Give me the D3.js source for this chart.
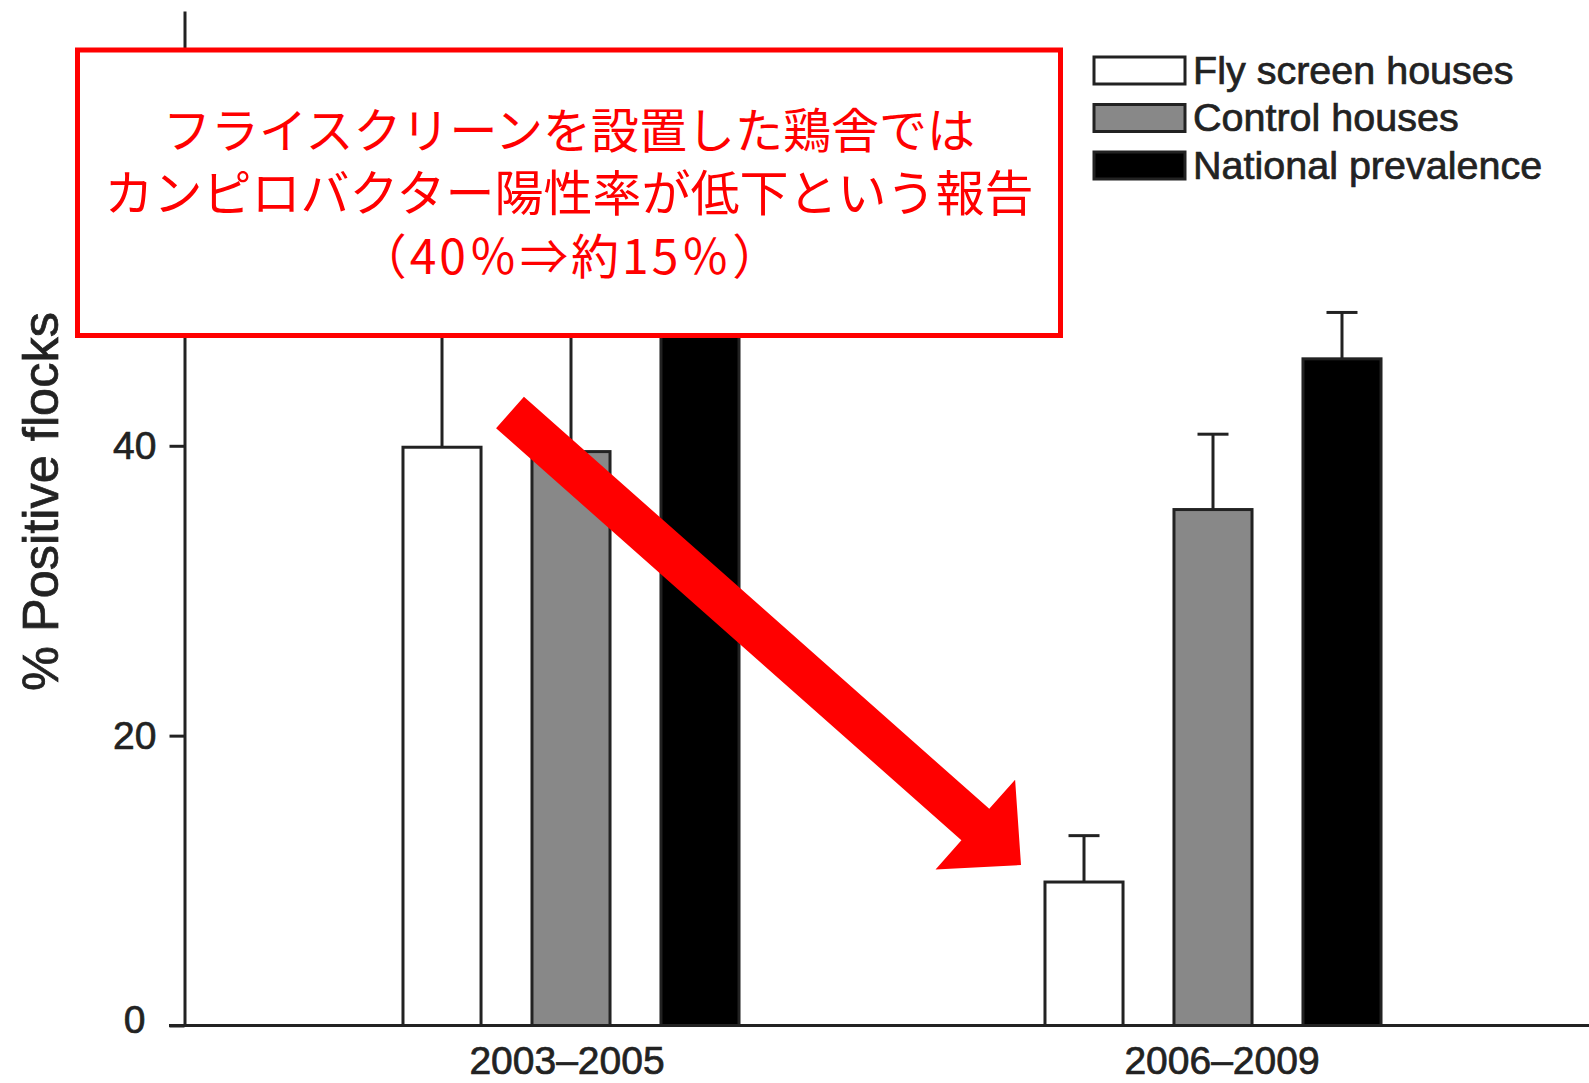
<!DOCTYPE html>
<html>
<head>
<meta charset="utf-8">
<script src="https://cdn.jsdelivr.net/npm/d3@7"></script>
<style>
  html, body { margin: 0; padding: 0; background: #fff; }
  #chart { width: 1589px; height: 1083px; }
</style>
</head>
<body>
<div id="chart"></div>
<script>
const periods = ["2003–2005", "2006–2009"];
const seriesNames = ["Fly screen houses", "Control houses", "National prevalence"];
const flyScreen = [39.9, 9.9];
const control = [39.6, 35.6];
const national = [52, 46];
const flyScreenErr = [14, 3.2];
const controlErr = [13, 5.2];
const nationalErr = [4, 3.2];
const yTicks = [0, 20, 40, 60];
const noteLines = ["フライスクリーンを設置した鶏舎では", "カンピロバクター陽性率が低下という報告", "（40％⇒約15％）"];

const fills = ["#ffffff", "#888888", "#000000"];
const ink = "#222";
const red = "#ff0000";
const sans = "'Liberation Sans', Arial, sans-serif";

const width = 1589;
const height = 1083;

const svg = d3
  .select("#chart")
  .append("svg")
  .attr("width", width)
  .attr("height", height)
  .style("font-family", sans);

const y = d3.scaleLinear().domain([0, 70]).range([1025.5, 11]);

const x0 = d3.scaleBand().domain(periods).range([250, 1534]);
const x1 = d3
  .scaleBand()
  .domain(seriesNames)
  .range([0, x0.bandwidth()])
  .paddingInner(0.395)
  .paddingOuter(1.186);

const values = [flyScreen, control, national];
const errors = [flyScreenErr, controlErr, nationalErr];
const rows = [];
periods.forEach((p, i) => {
  seriesNames.forEach((s, j) => {
    rows.push({ period: p, series: s, value: values[j][i], err: errors[j][i], fill: fills[j] });
  });
});

// slightly heavier strokes on labels, the source figure is a blurry scan
const heavy = sel => sel.attr("stroke", ink).attr("stroke-width", 0.7).attr("paint-order", "stroke");

// baseline
svg
  .append("line")
  .attr("x1", 169)
  .attr("x2", width)
  .attr("y1", y(0))
  .attr("y2", y(0))
  .attr("stroke", ink)
  .attr("stroke-width", 3);

// error bars (upper only)
const errG = svg.append("g").attr("stroke", ink).attr("stroke-width", 3);
rows.forEach(d => {
  const cx = x0(d.period) + x1(d.series) + x1.bandwidth() / 2;
  errG
    .append("line")
    .attr("x1", cx)
    .attr("x2", cx)
    .attr("y1", y(d.value))
    .attr("y2", y(d.value + d.err));
  errG
    .append("line")
    .attr("x1", cx - 15.5)
    .attr("x2", cx + 15.5)
    .attr("y1", y(d.value + d.err))
    .attr("y2", y(d.value + d.err));
});

svg
  .append("g")
  .selectAll("rect")
  .data(rows)
  .join("rect")
  .attr("x", d => x0(d.period) + x1(d.series))
  .attr("y", d => y(d.value))
  .attr("width", x1.bandwidth())
  .attr("height", d => y(0) - y(d.value))
  .attr("fill", d => d.fill)
  .attr("stroke", ink)
  .attr("stroke-width", 3);

const yAxis = g =>
  g
    .attr("transform", "translate(184.5,0)")
    .call(d3.axisLeft(y).tickValues(yTicks).tickSize(15).tickPadding(13).tickSizeOuter(0))
    .call(g => g.select(".domain").attr("stroke", ink).attr("stroke-width", 3))
    .call(g => g.selectAll(".tick line").attr("stroke", ink).attr("stroke-width", 3))
    .call(g =>
      g
        .selectAll(".tick text")
        .attr("fill", ink)
        .style("font-size", "39px")
        .style("font-family", sans)
        .call(heavy)
    )
    .call(g => g.selectAll(".tick text").filter(d => d === 0).attr("x", -39).attr("dy", "0.17em"));

const xAxis = g =>
  g
    .attr("transform", `translate(0,${y(0)})`)
    .call(d3.axisBottom(x0).tickSize(0).tickPadding(21))
    .call(g => g.select(".domain").remove())
    .call(g =>
      g
        .selectAll(".tick text")
        .attr("fill", ink)
        .attr("dx", (d, i) => (i === 0 ? -4 : 9))
        .style("font-size", "39px")
        .style("font-family", sans)
        .call(heavy)
    );

svg.append("g").call(yAxis);
svg.append("g").call(xAxis);

svg
  .append("text")
  .attr("transform", "translate(58,501.5) rotate(-90)")
  .attr("text-anchor", "middle")
  .attr("fill", ink)
  .style("font-size", "50.5px")
  .text("% Positive flocks")
  .call(heavy);

// legend
const legend = svg.append("g").attr("transform", "translate(1094,57)");
seriesNames.forEach((name, i) => {
  legend
    .append("rect")
    .attr("x", 0)
    .attr("y", i * 47.5)
    .attr("width", 91)
    .attr("height", 27)
    .attr("fill", fills[i])
    .attr("stroke", ink)
    .attr("stroke-width", 3);
  legend
    .append("text")
    .attr("x", 99)
    .attr("y", i * 47.5 + 26.5)
    .attr("fill", ink)
    .style("font-size", "39.5px")
    .text(name)
    .call(heavy);
});

// annotation box
svg
  .append("rect")
  .attr("x", 77.5)
  .attr("y", 50)
  .attr("width", 983)
  .attr("height", 285.5)
  .attr("fill", "#fff")
  .attr("stroke", red)
  .attr("stroke-width", 5);

svg
  .append("g")
  .selectAll("text")
  .data(noteLines)
  .join("text")
  .attr("x", (d, i) => (i === 2 ? 571 : 569))
  .attr("y", (d, i) => 148 + i * 63)
  .attr("text-anchor", "middle")
  .attr("fill", red)
  .style("font-family", "'Noto Sans CJK JP', sans-serif")
  .style("font-size", (d, i) => (i === 1 ? "49px" : "48px"))
  .style("letter-spacing", (d, i) => (i === 2 ? "3px" : null))
  .text(d => d);

// arrow
const arrowFrom = [510, 412.5];
const arrowTo = [1021, 865];
const shaftHalf = 21;
const headLen = 61;
const headHalf = 60;

const dx = arrowTo[0] - arrowFrom[0];
const dy = arrowTo[1] - arrowFrom[1];
const len = Math.hypot(dx, dy);
const ux = dx / len;
const uy = dy / len;
const px = -uy;
const py = ux;
const bx = arrowTo[0] - ux * headLen;
const by = arrowTo[1] - uy * headLen;

const arrowPts = [
  [arrowFrom[0] + px * shaftHalf, arrowFrom[1] + py * shaftHalf],
  [bx + px * shaftHalf, by + py * shaftHalf],
  [bx + px * headHalf, by + py * headHalf],
  arrowTo,
  [bx - px * headHalf, by - py * headHalf],
  [bx - px * shaftHalf, by - py * shaftHalf],
  [arrowFrom[0] - px * shaftHalf, arrowFrom[1] - py * shaftHalf]
];

svg
  .append("path")
  .attr("d", d3.line()(arrowPts) + "Z")
  .attr("fill", red);
</script>
</body>
</html>
